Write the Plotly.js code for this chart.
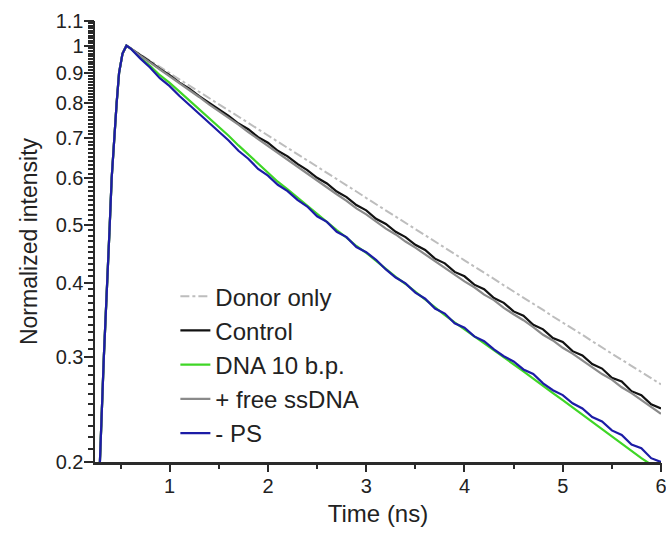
<!DOCTYPE html>
<html>
<head>
<meta charset="utf-8">
<script src="https://cdn.plot.ly/plotly-3.0.1.min.js"></script>
<style>html,body{margin:0;padding:0;background:#fff;}#chart{width:666px;height:536px;}</style>
</head>
<body>
<div id="chart"></div>
<script>
// Time axis (ns): rising edge then decay sampled every 0.1 ns
const time = [0.28,0.29,0.33,0.36,0.39,0.41,0.435,0.46,0.485,0.52,0.56,
  0.6,0.7,0.8,0.9,1.0,1.1,1.2,1.3,1.4,1.5,
  1.6,1.7,1.8,1.9,2.0,2.1,2.2,2.3,2.4,2.5,
  2.6,2.7,2.8,2.9,3.0,3.1,3.2,3.3,3.4,3.5,
  3.6,3.7,3.8,3.9,4.0,4.1,4.2,4.3,4.4,4.5,
  4.6,4.7,4.8,4.9,5.0,5.1,5.2,5.3,5.4,5.5,
  5.6,5.7,5.8,5.9,6.0];

const rise = [0.19,0.2,0.3,0.4,0.5,0.6,0.7,0.8,0.9,0.97,1.0];

const donorOnly = rise.concat([
  0.990,0.967,0.944,0.921,0.899,0.878,0.857,0.837,0.817,0.797,
  0.778,0.760,0.742,0.724,0.707,0.690,0.674,0.658,0.642,0.627,
  0.612,0.597,0.583,0.569,0.555,0.542,0.529,0.517,0.504,0.492,
  0.481,0.469,0.458,0.447,0.436,0.426,0.416,0.406,0.396,0.387,
  0.378,0.369,0.360,0.351,0.343,0.335,0.327,0.319,0.311,0.304,
  0.297,0.290,0.283,0.276,0.270]);

const control = rise.concat([
  0.990,0.963,0.940,0.914,0.892,0.867,0.847,0.823,0.803,0.781,
  0.762,0.740,0.724,0.702,0.687,0.666,0.652,0.633,0.618,0.600,
  0.587,0.569,0.557,0.540,0.529,0.512,0.502,0.487,0.477,0.463,
  0.454,0.439,0.431,0.417,0.410,0.397,0.390,0.377,0.370,0.358,
  0.352,0.340,0.334,0.323,0.318,0.307,0.302,0.292,0.287,0.277,
  0.273,0.263,0.259,0.250,0.246]);

const dna10bp = rise.concat([
  0.990,0.955,0.925,0.892,0.866,0.837,0.809,0.782,0.757,0.730,
  0.706,0.680,0.657,0.633,0.612,0.591,0.574,0.556,0.540,0.522,
  0.507,0.490,0.476,0.461,0.449,0.435,0.422,0.409,0.398,0.386,
  0.374,0.364,0.353,0.343,0.334,0.325,0.316,0.308,0.300,0.292,
  0.284,0.276,0.268,0.261,0.254,0.247,0.240,0.233,0.227,0.221,
  0.215,0.209,0.203,0.198,0.196]);

const freeSsDNA = rise.concat([
  0.990,0.962,0.937,0.912,0.889,0.864,0.841,0.820,0.797,0.777,
  0.755,0.737,0.716,0.697,0.680,0.661,0.643,0.627,0.609,0.594,
  0.578,0.563,0.549,0.533,0.521,0.506,0.493,0.482,0.469,0.458,
  0.446,0.435,0.424,0.413,0.402,0.393,0.382,0.374,0.363,0.354,
  0.346,0.337,0.327,0.320,0.311,0.304,0.296,0.289,0.281,0.275,
  0.267,0.261,0.254,0.248,0.241]);

const minusPS = rise.concat([
  0.990,0.952,0.919,0.882,0.855,0.823,0.795,0.768,0.743,0.716,
  0.693,0.666,0.646,0.621,0.605,0.584,0.570,0.551,0.537,0.517,
  0.506,0.487,0.477,0.459,0.450,0.437,0.421,0.408,0.399,0.385,
  0.376,0.362,0.355,0.342,0.336,0.325,0.319,0.309,0.301,0.295,
  0.286,0.281,0.271,0.264,0.259,0.251,0.246,0.238,0.234,0.226,
  0.222,0.214,0.211,0.203,0.200]);

const seriesNames = ["Donor only","Control","DNA 10 b.p.","+ free ssDNA","- PS"];
const xTickVals = [1,2,3,4,5,6];
const xTickText = ["1","2","3","4","5","6"];
const yTickVals = [0.2,0.3,0.4,0.5,0.6,0.7,0.8,0.9,1,1.1];
const yTickText = ["0.2","0.3","0.4","0.5","0.6","0.7","0.8","0.9","1","1.1"];

// tick positions incl. minor ones (labels only at the major values)
const yAllTicks = [], yAllText = [];
for (let k = 20; k <= 110; k++) {
  const v = k / 100;
  yAllTicks.push(v);
  const j = yTickVals.findIndex(t => Math.abs(t - v) < 1e-9);
  yAllText.push(j >= 0 ? yTickText[j] : "");
}
const xAllTicks = [], xAllText = [];
for (let k = 1; k <= 12; k++) {
  const v = k / 2;
  xAllTicks.push(v);
  const j = xTickVals.indexOf(v);
  xAllText.push(j >= 0 ? xTickText[j] : "");
}

const styles = [
  {color:"#bdbdbd", width:2, dash:"dashdot"},
  {color:"#111111", width:2.2, dash:"solid"},
  {color:"#3fd626", width:2.2, dash:"solid"},
  {color:"#8a8a8a", width:2.2, dash:"solid"},
  {color:"#1c1ca6", width:2.2, dash:"solid"}
];
const ys = [donorOnly, control, dna10bp, freeSsDNA, minusPS];

const traces = ys.map((y, i) => ({
  x: time, y: y, type: "scatter", mode: "lines",
  name: seriesNames[i], legendgroup: "g" + i,
  line: styles[i]
}));
// carrier trace (no visible points) so the major-tick overlay axes are drawn
traces.unshift({x: [null], y: [null], type: "scatter", mode: "lines", xaxis: "x2", yaxis: "y2", showlegend: false, hoverinfo: "skip"});

const font = "Arial, 'Liberation Sans', sans-serif";
const axisColor = "#2a2a2a";
const yRange = [Math.log10(0.2), Math.log10(1.1)];
const xRange = [0.24, 6.0];

const layout = {
  width: 666, height: 536,
  paper_bgcolor: "#ffffff", plot_bgcolor: "#ffffff",
  margin: {l: 95, r: 5, t: 21, b: 74},
  font: {family: font, color: "#222222", size: 20},
  showlegend: true,
  legend: {
    x: 0.142, y: 0.426, xanchor: "left", yanchor: "top",
    bgcolor: "rgba(0,0,0,0)", borderwidth: 0,
    font: {family: font, size: 24, color: "#222222"},
    tracegroupgap: 0
  },
  xaxis: {
    range: xRange,
    tickmode: "array", tickvals: xAllTicks, ticktext: xAllText,
    ticks: "outside", ticklen: 4, tickwidth: 2, tickcolor: axisColor,
    ticklabeloverflow: "allow",
    showline: true, linecolor: axisColor, linewidth: 2.5,
    showgrid: false, zeroline: false,
    tickfont: {family: font, size: 20, color: "#222222"},
    title: {text: "Time (ns)", font: {family: font, size: 24, color: "#222222"}, standoff: 10}
  },
  yaxis: {
    type: "log",
    range: yRange,
    tickmode: "array", tickvals: yAllTicks, ticktext: yAllText,
    ticks: "outside", ticklen: 5, tickwidth: 2, tickcolor: axisColor,
    ticklabeloverflow: "allow",
    showline: true, linecolor: axisColor, linewidth: 2.5,
    showgrid: false, zeroline: false,
    tickfont: {family: font, size: 20, color: "#222222"},
    title: {text: "Normalized intensity", font: {family: font, size: 23, color: "#222222"}, standoff: 12}
  },
  xaxis2: {
    overlaying: "x", anchor: "y", side: "bottom",
    range: xRange, tickmode: "array", tickvals: xTickVals,
    ticks: "outside", ticklen: 9, tickwidth: 2, tickcolor: axisColor,
    showticklabels: false, showline: false, showgrid: false, zeroline: false
  },
  yaxis2: {
    overlaying: "y", anchor: "x", side: "left", type: "log",
    range: yRange, tickmode: "array", tickvals: yTickVals,
    ticks: "outside", ticklen: 10, tickwidth: 2, tickcolor: axisColor,
    showticklabels: false, showline: false, showgrid: false, zeroline: false
  }
};

Plotly.newPlot("chart", traces, layout, {displayModeBar: false, staticPlot: true});
</script>
</body>
</html>
